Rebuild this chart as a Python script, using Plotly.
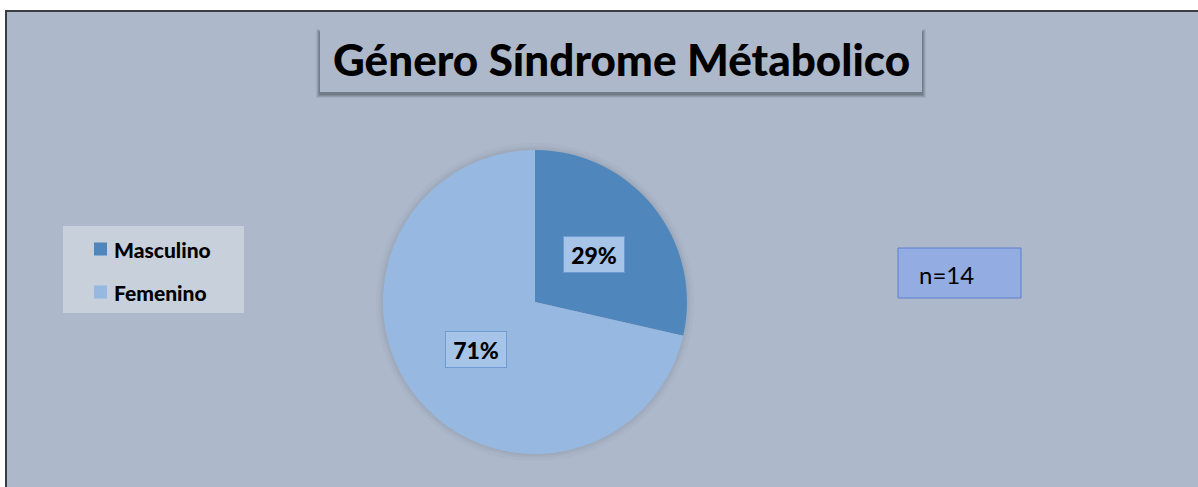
import math
import plotly.graph_objects as go

W, H = 1198, 487
categories = ["Masculino", "Femenino"]
counts = [4, 10]
colors = ["#4F87BD", "#97B8E0"]
title_text = "Género Síndrome Métabolico"
n_text = "n=14"

def px(x):
    return x / W

def py(y):
    return 1 - y / H

fig = go.Figure()

# pie geometry (pixels)
cx, cy, r = 535, 302, 152
fig.add_trace(go.Pie(
    labels=categories, values=counts, sort=False, direction="clockwise",
    rotation=0, marker=dict(colors=colors, line=dict(width=0)),
    textinfo="none", hoverinfo="label+percent", showlegend=False,
    domain=dict(x=[px(cx - r), px(cx + r)], y=[py(cy + r), py(cy - r)]),
))

shapes = []
annotations = []
# outer background
shapes.append(dict(type="rect", xref="paper", yref="paper", x0=px(6), x1=1.01, y0=-0.01, y1=py(11),
                   fillcolor="#ADB9CA", line=dict(color="#3A3D42", width=2), layer="below"))
# pie soft shadow
for d, op in [(7, 0.10), (4, 0.15), (2, 0.2)]:
    shapes.append(dict(type="circle", xref="paper", yref="paper", x0=px(cx - r - d), x1=px(cx + r + d),
                       y0=py(cy + r + d), y1=py(cy - r - d), fillcolor="rgba(140,150,165,%.2f)" % op,
                       line=dict(width=0), layer="below"))
# title shadow + box
for dx, db, dt, op in [(4, 6, 2, 0.12), (3, 5, 3, 0.18), (2, 4, 4, 0.25), (1, 3, 5, 0.3)]:
    shapes.append(dict(type="rect", xref="paper", yref="paper", x0=px(320 - dx), x1=px(922 + dx),
                       y0=py(92 + db), y1=py(27 + dt),
                       fillcolor="rgba(80,88,100,%.2f)" % op, line=dict(width=0), layer="below"))
shapes.append(dict(type="rect", xref="paper", yref="paper", x0=px(320), x1=px(922), y0=py(92), y1=py(27),
                   fillcolor="#ADB9CA", line=dict(width=0), layer="below"))
annotations.append(dict(text=title_text, x=px(621), y=py(59), xref="paper", yref="paper",
                        showarrow=False, font=dict(family="Lato", size=44, color="#000000", weight=900),
                        xanchor="center", yanchor="middle"))

# legend (manual)
shapes.append(dict(type="rect", xref="paper", yref="paper", x0=px(63), x1=px(244), y0=py(313), y1=py(226),
                   fillcolor="#C8D0DB", line=dict(width=0), layer="below"))
for i, (cat, col) in enumerate(zip(categories, colors)):
    yc = 249 + i * 43
    shapes.append(dict(type="rect", xref="paper", yref="paper", x0=px(94), x1=px(107), y0=py(yc + 6.5), y1=py(yc - 6.5),
                       fillcolor=col, line=dict(width=0)))
    annotations.append(dict(text=cat, x=px(112), y=py(yc), xref="paper", yref="paper",
                            showarrow=False, font=dict(family="Lato", size=21, color="#000000", weight=900),
                            xanchor="left", yanchor="middle"))

# data labels
total = sum(counts)
cum = 0
for v in counts:
    frac = v / total
    mid = (cum + frac / 2) * 2 * math.pi
    cum += frac
    lx = cx + 0.5 * r * math.sin(mid)
    ly = cy - 0.5 * r * math.cos(mid)
    annotations.append(dict(text="%d%%" % round(frac * 100), x=px(lx), y=py(ly), xref="paper", yref="paper",
                            showarrow=False, font=dict(family="Lato", size=23, color="#000000", weight=900),
                            bgcolor="#A6C3E8", bordercolor="#6E9BD2", borderwidth=1,
                            width=58, height=33, xanchor="center", yanchor="middle"))

# n box
shapes.append(dict(type="rect", xref="paper", yref="paper", x0=px(898), x1=px(1021), y0=py(298), y1=py(248),
                   fillcolor="#93ACE2", line=dict(color="#5E7FD0", width=1)))
annotations.append(dict(text=n_text, x=px(917), y=py(274), xref="paper", yref="paper", showarrow=False,
                        font=dict(family="Lato", size=24, color="#000000"),
                        xanchor="left", yanchor="middle"))

fig.update_layout(width=W, height=H, margin=dict(l=0, r=0, t=0, b=0),
                  paper_bgcolor="#FFFFFF", plot_bgcolor="#FFFFFF",
                  shapes=shapes, annotations=annotations, showlegend=False)
fig.write_html("out.html")
